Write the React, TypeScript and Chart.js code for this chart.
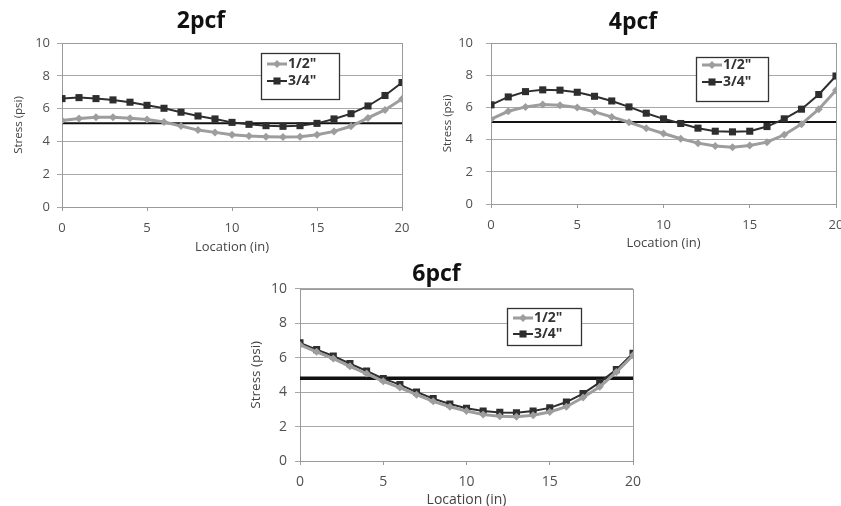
import React, { useEffect, useRef } from "react";
import { Chart, registerables } from "chart.js";
Chart.register(...registerables);

const locations = [0, 1, 2, 3, 4, 5, 6, 7, 8, 9, 10, 11, 12, 13, 14, 15, 16, 17, 18, 19, 20];
const xTickValues = [0, 5, 10, 15, 20];
const legendLabels = ['1/2"', '3/4"'];
const chartTitles = ["2pcf", "4pcf", "6pcf"];

const half2pcf = [5.27, 5.39, 5.47, 5.47, 5.41, 5.33, 5.18, 4.94, 4.69, 4.55, 4.41, 4.33, 4.29, 4.27, 4.29, 4.41, 4.61, 4.92, 5.43, 5.92, 6.59];
const threeQ2pcf = [6.61, 6.67, 6.61, 6.53, 6.39, 6.2, 6.02, 5.78, 5.55, 5.37, 5.16, 5.04, 4.96, 4.92, 4.96, 5.1, 5.37, 5.69, 6.16, 6.8, 7.59];
const ref2pcf = 5.1;

const half4pcf = [5.27, 5.76, 6.03, 6.18, 6.14, 5.99, 5.72, 5.41, 5.08, 4.71, 4.38, 4.05, 3.78, 3.6, 3.53, 3.64, 3.84, 4.3, 4.96, 5.89, 7.07];
const threeQ4pcf = [6.16, 6.65, 6.98, 7.09, 7.07, 6.94, 6.69, 6.4, 6.03, 5.64, 5.29, 5.0, 4.71, 4.52, 4.48, 4.52, 4.81, 5.29, 5.89, 6.8, 7.95];
const ref4pcf = 5.1;

const half6pcf = [6.73, 6.33, 5.94, 5.49, 5.07, 4.62, 4.26, 3.85, 3.46, 3.15, 2.9, 2.69, 2.59, 2.57, 2.65, 2.84, 3.15, 3.68, 4.31, 5.16, 6.13];
const threeQ6pcf = [6.85, 6.46, 6.09, 5.65, 5.22, 4.78, 4.43, 4.0, 3.62, 3.31, 3.06, 2.9, 2.82, 2.8, 2.9, 3.08, 3.42, 3.91, 4.56, 5.3, 6.25];
const ref6pcf = 4.8;

const HALF_COLOR = "#9d9d9d";
const THREEQ_COLOR = "#2e2e2e";
const FONT = "'Open Sans', 'DejaVu Sans', sans-serif";

type Layout = {
  left: number; top: number; width: number; height: number;
  padRight: number; yAxisW: number; xAxisH: number;
  titlePadTop: number; titlePadBottom: number;
  yTitlePad: number; yTickPad: number; xTickPad: number; xTitlePad: number;
  tickSize: number; xTitleSize: number; yTitleSize: number;
  refWidth: number;
  legend: { x: number; y: number; w: number; h: number; r1: number; r2: number; font: number };
};

const legendPlugin = {
  id: "boxLegend",
  afterDraw(chart: any) {
    const lg = chart.options.plugins.boxLegend;
    if (!lg) return;
    const ctx = chart.ctx as CanvasRenderingContext2D;
    ctx.save();
    ctx.fillStyle = "#ffffff";
    ctx.fillRect(lg.x, lg.y, lg.w, lg.h);
    ctx.strokeStyle = "#333";
    ctx.lineWidth = 1.3;
    ctx.strokeRect(lg.x + 0.5, lg.y + 0.5, lg.w, lg.h);
    const rows = [lg.y + lg.r1, lg.y + lg.r2];
    chart.data.datasets.slice(0, 2).forEach((ds: any, i: number) => {
      const cy = rows[i];
      const x0 = lg.x + 6, x1 = lg.x + 26;
      ctx.strokeStyle = ds.borderColor;
      ctx.lineWidth = ds.borderWidth;
      ctx.beginPath();
      ctx.moveTo(x0, cy);
      ctx.lineTo(x1, cy);
      ctx.stroke();
      const cx = (x0 + x1) / 2;
      ctx.fillStyle = ds.pointBackgroundColor;
      ctx.beginPath();
      if (ds.pointStyle === "rect") {
        const s = ds.pointRadius * Math.SQRT1_2;
        ctx.rect(cx - s, cy - s, 2 * s, 2 * s);
      } else {
        const r = ds.pointRadius;
        ctx.moveTo(cx, cy - r);
        ctx.lineTo(cx + r, cy);
        ctx.lineTo(cx, cy + r);
        ctx.lineTo(cx - r, cy);
        ctx.closePath();
      }
      ctx.fill();
      ctx.fillStyle = "#333";
      ctx.font = `bold ${lg.font}px ${FONT}`;
      ctx.textBaseline = "middle";
      ctx.textAlign = "left";
      ctx.fillText(ds.label, x1 + 1, cy + 0.5);
    });
    ctx.restore();
  },
};

const framePlugin = {
  id: "frame",
  beforeDatasetsDraw(chart: any) {
    const { ctx, chartArea } = chart;
    ctx.save();
    ctx.strokeStyle = "#9a9a9a";
    ctx.lineWidth = 1;
    ctx.strokeRect(Math.round(chartArea.left) + 0.5, Math.round(chartArea.top) + 0.5,
      Math.round(chartArea.right - chartArea.left), Math.round(chartArea.bottom - chartArea.top));
    ctx.restore();
  },
};

function StressChart(props: { title: string; half: number[]; threeQ: number[]; refValue: number; layout: Layout }) {
  const ref = useRef<HTMLCanvasElement | null>(null);
  const { title, half, threeQ, refValue, layout: L } = props;
  useEffect(() => {
    if (!ref.current) return;
    const chart = new Chart(ref.current, {
      type: "line",
      data: {
        datasets: [
          {
            label: legendLabels[0],
            data: locations.map((x, i) => ({ x, y: half[i] })),
            borderColor: HALF_COLOR,
            backgroundColor: HALF_COLOR,
            pointBackgroundColor: HALF_COLOR,
            pointBorderColor: HALF_COLOR,
            borderWidth: 3,
            pointStyle: "rectRot",
            pointRadius: 4,
            pointBorderWidth: 0,
          },
          {
            label: legendLabels[1],
            data: locations.map((x, i) => ({ x, y: threeQ[i] })),
            borderColor: THREEQ_COLOR,
            backgroundColor: THREEQ_COLOR,
            pointBackgroundColor: THREEQ_COLOR,
            pointBorderColor: THREEQ_COLOR,
            borderWidth: 2,
            pointStyle: "rect",
            pointRadius: 5,
            pointBorderWidth: 0,
          },
          {
            label: "ref",
            data: [locations[0], locations[locations.length - 1]].map((x) => ({ x, y: refValue })),
            borderColor: "#111",
            borderWidth: L.refWidth,
            pointRadius: 0,
          },
        ],
      } as any,
      options: {
        animation: false,
        responsive: false,
        layout: { padding: { left: 0, top: 0, right: L.padRight, bottom: 0 } },
        plugins: {
          legend: { display: false },
          tooltip: { enabled: false },
          title: {
            display: true,
            text: title,
            color: "#111",
            font: { family: FONT, size: 23, weight: "bold", lineHeight: 1.2 },
            padding: { top: L.titlePadTop, bottom: L.titlePadBottom },
          },
          boxLegend: L.legend,
        } as any,
        scales: {
          x: {
            type: "linear",
            min: 0,
            max: 20,
            afterBuildTicks: (s: any) => { s.ticks = xTickValues.map((v) => ({ value: v })); },
            afterFit: (s: any) => { s.height = L.xAxisH; },
            ticks: { color: "#505050", font: { family: FONT, size: L.tickSize }, padding: L.xTickPad, maxRotation: 0 },
            grid: { drawOnChartArea: false, drawTicks: true, tickLength: 4, color: "#9a9a9a" },
            border: { color: "#9a9a9a" },
            title: {
              display: true,
              text: "Location (in)",
              color: "#444",
              font: { family: FONT, size: L.xTitleSize },
              padding: { top: 0, bottom: L.xTitlePad },
            },
          },
          y: {
            min: 0,
            max: 10,
            ticks: { stepSize: 2, color: "#505050", font: { family: FONT, size: L.tickSize }, padding: L.yTickPad },
            afterFit: (s: any) => { s.width = L.yAxisW; },
            grid: { color: "#a8a8a8", lineWidth: 1, tickLength: 5 },
            border: { color: "#9a9a9a" },
            title: {
              display: true,
              text: "Stress (psi)",
              color: "#444",
              font: { family: FONT, size: L.yTitleSize },
              padding: { top: L.yTitlePad, bottom: 0 },
            },
          },
        } as any,
      },
      plugins: [framePlugin, legendPlugin],
    } as any);
    return () => chart.destroy();
  }, []);
  return (
    <canvas
      ref={ref}
      width={L.width}
      height={L.height}
      style={{ position: "absolute", left: L.left, top: L.top, width: L.width, height: L.height }}
    />
  );
}

const layout1: Layout = {
  left: 0, top: 0, width: 420, height: 258, padRight: 18, yAxisW: 62, xAxisH: 51,
  titlePadTop: 8, titlePadBottom: 7.4, yTitlePad: 12, yTickPad: 7, xTickPad: 9, xTitlePad: 3,
  tickSize: 13, xTitleSize: 13, yTitleSize: 11.5,
  refWidth: 2,
  legend: { x: 261, y: 53, w: 78, h: 46, r1: 11, r2: 28, font: 14 },
};
const layout2: Layout = {
  left: 430, top: 0, width: 430, height: 258, padRight: 24, yAxisW: 61, xAxisH: 54,
  titlePadTop: 9, titlePadBottom: 6.4, yTitlePad: 11, yTickPad: 13, xTickPad: 9, xTitlePad: 7,
  tickSize: 13, xTitleSize: 13, yTitleSize: 11.5,
  refWidth: 2,
  legend: { x: 266, y: 57, w: 72, h: 44, r1: 8, r2: 25, font: 14 },
};
const layout3: Layout = {
  left: 240, top: 252, width: 424, height: 258, padRight: 31, yAxisW: 60, xAxisH: 49,
  titlePadTop: 9, titlePadBottom: 0, yTitlePad: 7.7, yTickPad: 8, xTickPad: 9, xTitlePad: 1.6,
  tickSize: 14, xTitleSize: 14, yTitleSize: 13.5,
  refWidth: 3.5,
  legend: { x: 267, y: 56, w: 74, h: 37, r1: 10, r2: 26, font: 14 },
};

export default function App() {
  return (
    <div style={{ position: "fixed", left: 0, top: 0, width: 841, height: 506, overflow: "hidden", background: "#fff" }}>
      <StressChart title={chartTitles[0]} half={half2pcf} threeQ={threeQ2pcf} refValue={ref2pcf} layout={layout1} />
      <StressChart title={chartTitles[1]} half={half4pcf} threeQ={threeQ4pcf} refValue={ref4pcf} layout={layout2} />
      <StressChart title={chartTitles[2]} half={half6pcf} threeQ={threeQ6pcf} refValue={ref6pcf} layout={layout3} />
    </div>
  );
}
